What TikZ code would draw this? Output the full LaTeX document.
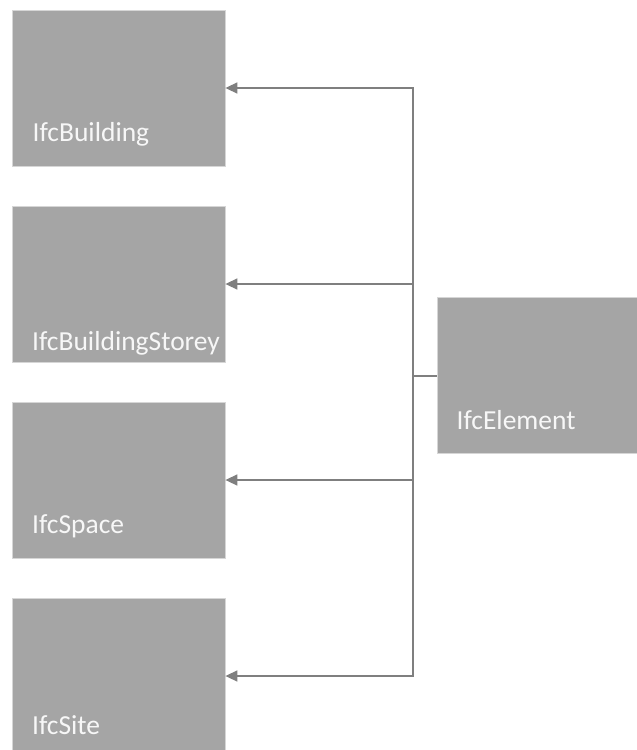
\documentclass[tikz,border=0pt]{standalone}
\usepackage{fontspec}
\setmainfont{Carlito}
\usetikzlibrary{arrows.meta}
\definecolor{boxfill}{HTML}{A5A5A5}
\definecolor{boxline}{HTML}{D6D6D6}
\definecolor{linecol}{HTML}{7F7F7F}
\definecolor{txtcol}{HTML}{F7F7F7}
\tikzset{
  ifcbox/.style={draw=boxline, line width=0.8pt, fill=boxfill, minimum width=213pt, minimum height=156pt, inner sep=0pt},
  ifclabel/.style={anchor=base west, inner sep=0pt, text=txtcol, font=\fontsize{27.5}{31}\selectfont},
  conn/.style={draw=linecol, line width=1.5pt, -{Triangle[length=12pt,width=11pt]}},
  plain/.style={draw=linecol, line width=1.5pt}
}
\begin{document}
\begin{tikzpicture}[x=1pt,y=1pt]
\useasboundingbox (0,0) rectangle (637,-750);
\node[ifcbox] (b1) at (118.5,-88) {};
\node[ifcbox] (b2) at (118.5,-284) {};
\node[ifcbox] (b3) at (118.5,-480) {};
\node[ifcbox] (b4) at (118.5,-676) {};
\node[ifcbox, minimum width=200pt] (el) at (537,-375) {};
\node[ifclabel] (t1) at (32.5,-141.5) {IfcBuilding};
\node[ifclabel] (t2) at (32,-350) {IfcBuildingStorey};
\node[ifclabel] (t3) at (32,-533) {IfcSpace};
\node[ifclabel] (t4) at (32,-734) {IfcSite};
\node[ifclabel] (t5) at (456.5,-429) {IfcElement};
\coordinate (j) at (413,-376);
\draw[plain] (el.west |- j) -- (j);
\draw[conn] (j) |- (b1.east);
\draw[conn] (j) |- (b2.east);
\draw[conn] (j) |- (b3.east);
\draw[conn] (j) |- (b4.east);
\end{tikzpicture}
\end{document}
